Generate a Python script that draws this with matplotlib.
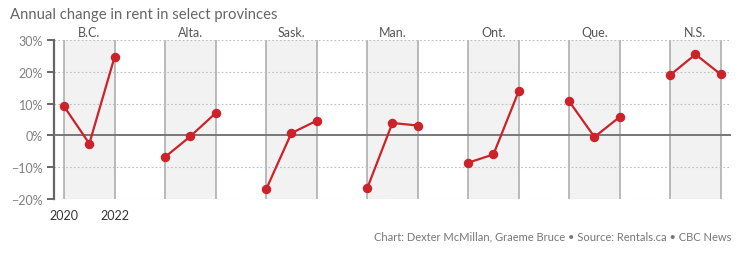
import matplotlib
matplotlib.use("Agg")
import matplotlib.pyplot as plt
import numpy as np

provinces = ["B.C.", "Alta.", "Sask.", "Man.", "Ont.", "Que.", "N.S."]
years = [2020, 2021, 2022]
values = {
    "B.C.": [9.1, -2.6, 24.7],
    "Alta.": [-6.8, -0.3, 7.0],
    "Sask.": [-17.0, 0.7, 4.6],
    "Man.": [-16.7, 3.9, 3.1],
    "Ont.": [-8.6, -6.0, 13.9],
    "Que.": [10.7, -0.5, 5.8],
    "N.S.": [19.0, 25.5, 19.2],
}
yticks = [30, 20, 10, 0, -10, -20]
xtick_labels = ["2020", "2022"]
title = "Annual change in rent in select provinces"
footer = "Chart: Dexter McMillan, Graeme Bruce \u2022 Source: Rentals.ca \u2022 CBC News"

plt.rcParams['font.family'] = ['Lato', 'DejaVu Sans']

fig = plt.figure(figsize=(7.55, 2.55), dpi=100)
ax = fig.add_axes([0.0715, 0.216, 0.968 - 0.0715, 0.623])

step = 4
red = "#cc2229"
for i, p in enumerate(provinces):
    x0 = i * step
    xs = [x0 + (y - years[0]) for y in years]
    ax.axvspan(xs[0], xs[-1], color="#f2f2f2", zorder=0, lw=0)
    for xv in (xs[0], xs[-1]):
        ax.axvline(xv, color="#a8a8a8", lw=1.1, zorder=1)
    ax.plot(xs, values[p], color=red, lw=1.6, marker="o", ms=5.8, zorder=4)
    ax.text((xs[0] + xs[-1]) / 2, 30.5, p, ha="center", va="bottom",
            fontsize=9, color="#555555")

for yv in yticks:
    if yv == 0:
        ax.axhline(0, color="#777777", lw=1.4, zorder=3)
    else:
        ax.axhline(yv, color="#b8c0c8", lw=0.8, ls=(0, (1.5, 2)), zorder=2)

ax.set_xlim(-0.4, 26.4)
ax.set_ylim(-20, 30)
ax.set_yticks(yticks)
ax.set_yticklabels([f"{v}%".replace("-", "\u2212") for v in yticks],
                   fontsize=9, color="#808080")
ax.set_xticks([0, 2])
ax.set_xticklabels(xtick_labels, fontsize=9, color="#333333")
ax.tick_params(axis="x", length=0, pad=7)
ax.tick_params(axis="y", length=5, width=1.4, color="#666666", pad=3)
for s in ("top", "right", "bottom"):
    ax.spines[s].set_visible(False)
ax.spines["left"].set_color("#666666")
ax.spines["left"].set_linewidth(1.6)

fig.text(0.013, 0.94, title, fontsize=10.7, color="#666666", ha="left", va="center")
fig.text(0.969, 0.07, footer, fontsize=8, color="#777777", ha="right", va="center")

fig.savefig("out.png", dpi=100)
